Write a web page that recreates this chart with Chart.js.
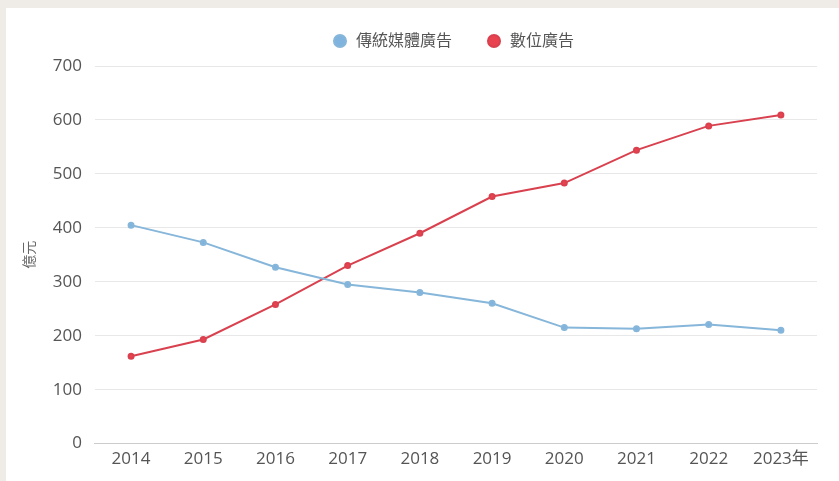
<!DOCTYPE html>
<html>
<head>
<meta charset="utf-8">
<script src="https://cdn.jsdelivr.net/npm/chart.js@4"></script>
<style>
  html, body { margin: 0; padding: 0; background: #efebe6; }
  #wrap { position: absolute; left: 6px; top: 8px; width: 833px; height: 473px; background: #fff; }
</style>
</head>
<body>
<div id="wrap"><canvas id="adChart"></canvas></div>
<script>
// Data
const years = ['2014', '2015', '2016', '2017', '2018', '2019', '2020', '2021', '2022', '2023年'];
const traditional = [405, 373, 327, 295, 280, 260, 215, 213, 221, 210];
const digital = [162, 193, 258, 330, 390, 458, 483, 544, 589, 609];

const FONT = '"Open Sans", "Noto Sans CJK TC", sans-serif';

// Legend sits a bit right of centre and higher, with wide gaps between items
const legendPlace = {
    id: 'legendPlace',
    beforeInit(chart) {
        const fit = chart.legend.fit;
        chart.legend.fit = function () {
            fit.call(this);
            this.height = 50;
        };
    },
    afterLayout(chart) {
        const lg = chart.legend;
        lg.left += 34;
        lg.right += 34;
        lg.top = -9;
        lg.bottom = lg.top + lg.height;
    }
};

function initChart() {
    const ctx = document.getElementById('adChart').getContext('2d');
    new Chart(ctx, {
        type: 'line',
        data: {
            labels: years,
            datasets: [{
                label: '傳統媒體廣告',
                data: traditional,
                borderColor: '#86b6da',
                backgroundColor: '#80b4de',
                borderWidth: 2,
                pointRadius: 2.5,
                tension: 0
            }, {
                label: '數位廣告',
                data: digital,
                borderColor: '#d9414f',
                backgroundColor: '#e8434f',
                borderWidth: 2,
                pointRadius: 2.5,
                tension: 0
            }]
        },
        options: {
            responsive: true,
            maintainAspectRatio: false,
            animation: false,
            layout: { padding: { left: 15, right: 22, top: 8, bottom: 7 } },
            plugins: {
                legend: {
                    labels: {
                        usePointStyle: true,
                        pointStyle: 'circle',
                        boxWidth: 16,
                        boxHeight: 8.5,
                        padding: 34,
                        color: '#555',
                        font: { family: FONT, size: 16 }
                    }
                },
                tooltip: { enabled: false }
            },
            scales: {
                x: {
                    offset: true,
                    grid: { display: false, drawTicks: false },
                    border: { color: '#ccc' },
                    ticks: { color: '#555', font: { family: FONT, size: 17 }, padding: 5 }
                },
                y: {
                    min: 0,
                    max: 700,
                    ticks: { stepSize: 100, color: '#555', font: { family: FONT, size: 17 }, padding: 13 },
                    grid: { color: '#e8e8e8', drawTicks: false },
                    border: { display: false },
                    title: {
                        display: true,
                        text: '億元',
                        color: '#666',
                        padding: { top: 1, bottom: 1 },
                        font: { family: FONT, size: 14 }
                    }
                }
            }
        },
        plugins: [legendPlace]
    });
}

document.addEventListener('DOMContentLoaded', initChart);
</script>
</body>
</html>
